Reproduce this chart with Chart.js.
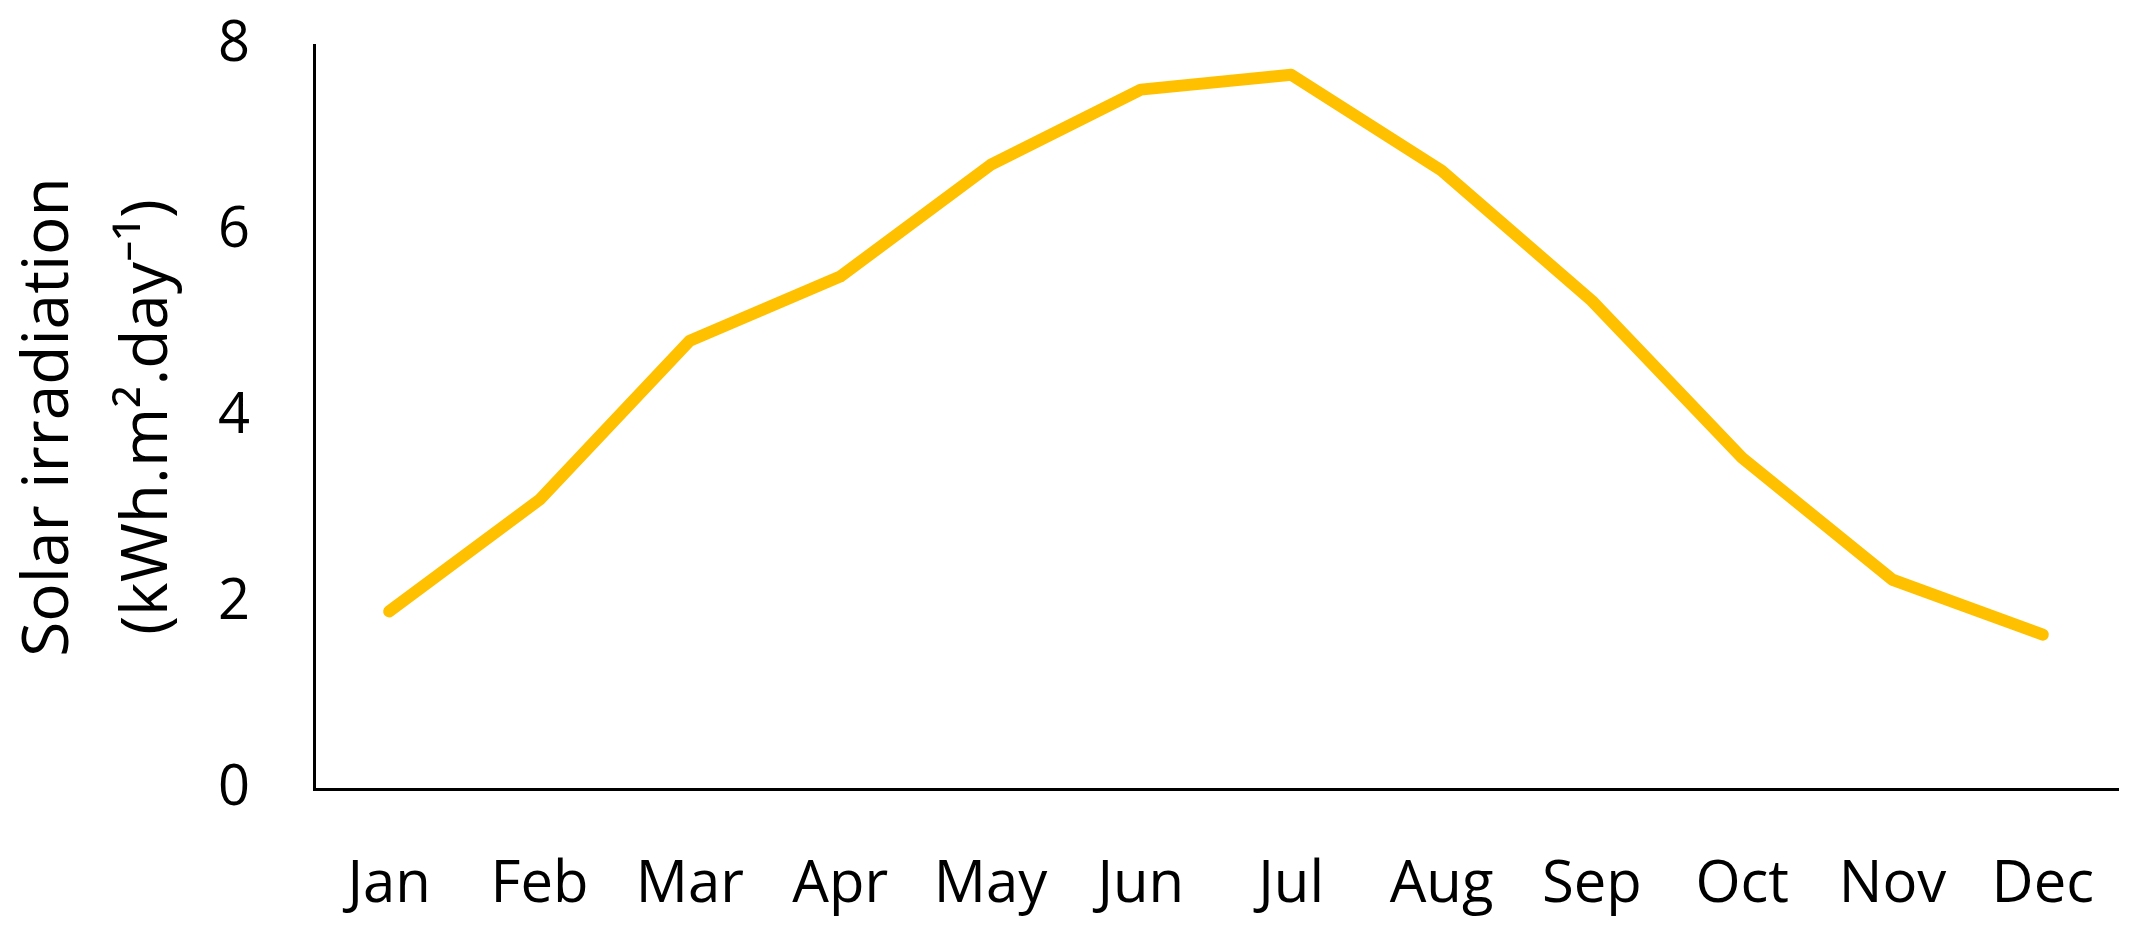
<!DOCTYPE html>
<html>
<head>
<meta charset="utf-8">
<script src="https://cdn.jsdelivr.net/npm/chart.js@4"></script>
<style>
  html, body { margin: 0; padding: 0; background: #fff; }
  #wrap { width: 2141px; height: 932px; }
</style>
</head>
<body>
<div id="wrap"><canvas id="lineChart" width="2141" height="932"></canvas></div>
<script>
// Datos del gráfico
const months = ['Jan', 'Feb', 'Mar', 'Apr', 'May', 'Jun', 'Jul', 'Aug', 'Sep', 'Oct', 'Nov', 'Dec'];
const irradiation = [1.91, 3.11, 4.82, 5.51, 6.71, 7.52, 7.68, 6.65, 5.25, 3.56, 2.25, 1.66];
const yTicks = [0, 2, 4, 6, 8];
const yTitle = ['Solar irradiation', '(kWh.m\u00B2.day\u207B\u00B9)'];

const fontFamily = '"Open Sans", "Noto Sans", sans-serif';

const ctx = document.getElementById('lineChart').getContext('2d');

new Chart(ctx, {
    type: 'line',
    data: {
        labels: months,
        datasets: [{
            label: 'Solar irradiation',
            data: irradiation,
            borderColor: '#FFC000',
            backgroundColor: '#FFC000',
            borderWidth: 12,
            borderCapStyle: 'round',
            borderJoinStyle: 'round',
            pointRadius: 0,
            fill: false,
            tension: 0
        }]
    },
    options: {
        responsive: false,
        animation: false,
        layout: { padding: { top: 45, right: 23, left: 0, bottom: 0 } },
        plugins: {
            legend: { display: false },
            tooltip: { enabled: false }
        },
        scales: {
            x: {
                offset: true,
                grid: { display: false, drawTicks: false },
                border: { display: true, color: '#000', width: 3 },
                ticks: {
                    color: '#000',
                    padding: 62,
                    font: { family: fontFamily, size: 58 }
                },
                afterFit: s => { s.height = 143; s.paddingLeft = 0; s.paddingRight = 0; }
            },
            y: {
                min: 0,
                max: 8,
                grid: { display: false, drawTicks: false },
                border: { display: true, color: '#000', width: 3 },
                afterBuildTicks: s => { s.ticks = yTicks.map(v => ({ value: v })); },
                ticks: {
                    color: '#000',
                    padding: 64,
                    font: { family: fontFamily, size: 56 }
                },
                title: {
                    display: true,
                    text: yTitle,
                    color: '#000',
                    padding: { top: 0, bottom: 0 },
                    font: { family: fontFamily, size: 64, lineHeight: 1.55 }
                },
                afterFit: s => { s.width = 314; s.paddingTop = 0; s.paddingBottom = 0; }
            }
        }
    }
});
</script>
</body>
</html>
